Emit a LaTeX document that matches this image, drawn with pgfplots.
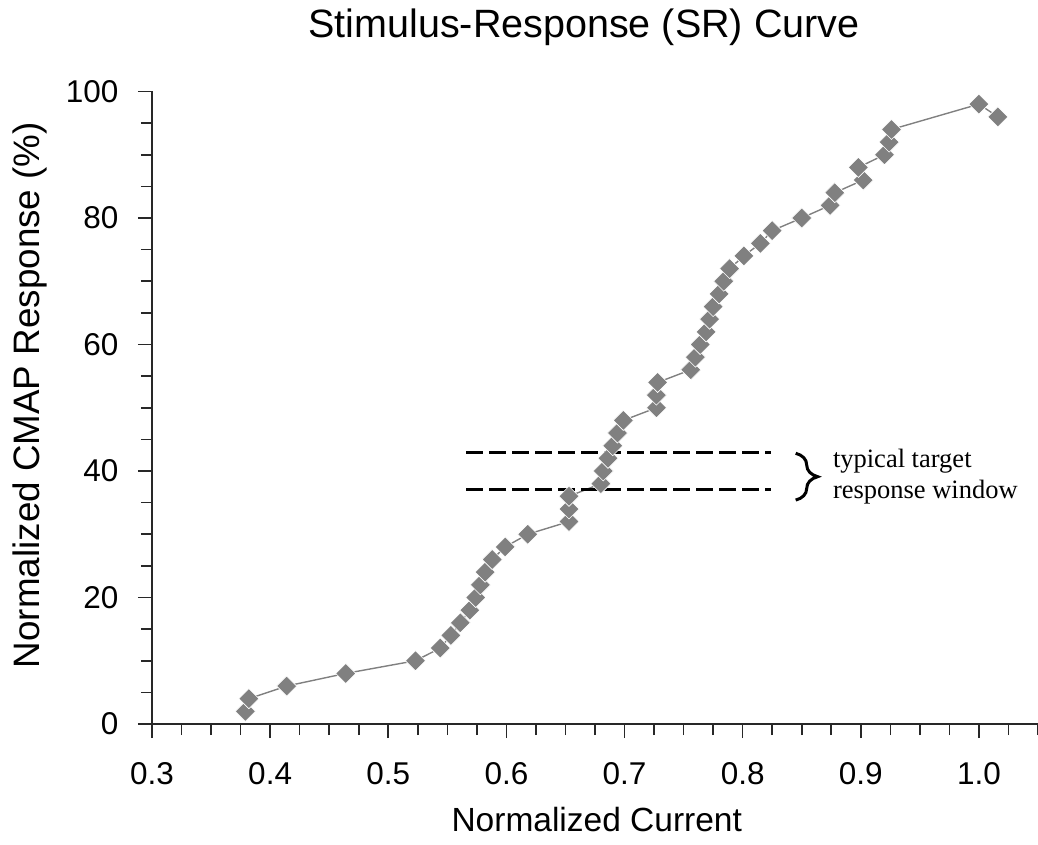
\documentclass[border=0pt]{standalone}
\usepackage{pgfplots}
\pgfplotsset{compat=1.18}
\usetikzlibrary{decorations.pathreplacing}
\usepackage{fontspec}
\setmainfont{Liberation Sans}
\newfontfamily\seriffont{Liberation Serif}
\definecolor{ptgray}{RGB}{128,128,128}
\definecolor{axgray}{RGB}{40,40,40}

\begin{document}
\begin{tikzpicture}
\begin{axis}[
  scale only axis, width=886bp, height=632.5bp,
  xmin=0.3, xmax=1.05, ymin=0, ymax=100,
  axis x line*=bottom, axis y line*=left,
  axis line style={-, line width=1.6bp, color=axgray},
  xtick={0.3,0.4,0.5,0.6,0.7,0.8,0.9,1.0},
  minor xtick={0.325,0.35,0.375,0.425,0.45,0.475,0.525,0.55,0.575,0.625,0.65,0.675,0.725,0.75,0.775,0.825,0.85,0.875,0.925,0.95,0.975,1.025,1.05},
  ytick={0,20,40,60,80,100},
  minor ytick={5,10,15,25,30,35,45,50,55,65,70,75,85,90,95},
  tick align=outside,
  major tick length=14bp, minor tick length=11bp,
  tick style={line width=1.6bp, color=axgray},
  /pgf/number format/assume math mode=true,
  xticklabel style={font=\fontsize{31.5bp}{36bp}\selectfont, yshift=-21bp, /pgf/number format/.cd, fixed, fixed zerofill, precision=1},
  yticklabel style={font=\fontsize{31.5bp}{36bp}\selectfont, xshift=-16bp},
  title={Stimulus-Response (SR) Curve},
  title style={font=\fontsize{39.5bp}{44bp}\selectfont, at={(axis description cs:0.4876,1.0767)}, anchor=base},
  xlabel={Normalized Current},
  xlabel style={font=\fontsize{33.5bp}{40bp}\selectfont, at={(axis description cs:0.502,-0.1692)}, anchor=base},
  ylabel={Normalized CMAP Response (\%)},
  ylabel style={font=\fontsize{36.8bp}{42bp}\selectfont, at={(axis description cs:-0.127,0.52)}, anchor=base},
  clip=false,
]
\addplot[color=ptgray, line width=1.4bp, mark=square*, mark size=7.1bp,
  mark options={rotate=45, fill=ptgray, draw=white, line width=0.6bp}] coordinates {
  (0.379,2) (0.382,4) (0.414,6) (0.464,8) (0.523,10) (0.544,12) (0.553,14)
  (0.561,16) (0.569,18) (0.574,20) (0.578,22) (0.582,24) (0.588,26) (0.599,28)
  (0.618,30) (0.653,32) (0.653,34) (0.653,36) (0.680,38) (0.682,40) (0.686,42)
  (0.690,44) (0.694,46) (0.699,48) (0.727,50) (0.727,52) (0.728,54) (0.756,56)
  (0.760,58) (0.764,60) (0.769,62) (0.772,64) (0.775,66) (0.780,68) (0.784,70)
  (0.789,72) (0.801,74) (0.815,76) (0.825,78) (0.850,80) (0.874,82) (0.878,84)
  (0.902,86) (0.898,88) (0.920,90) (0.924,92) (0.926,94) (1.000,98) (1.016,96)
};
\addplot[black, line width=3bp, dash pattern=on 17bp off 6bp, forget plot] coordinates {(0.566,43) (0.824,43)};
\addplot[black, line width=3bp, dash pattern=on 17bp off 6bp, forget plot] coordinates {(0.566,37) (0.824,37)};
\draw[black, line width=3bp, decorate, decoration={brace, amplitude=22bp}] (axis cs:0.8449,42.8) -- (axis cs:0.8449,35.4);
\node[font=\seriffont\fontsize{26.5bp}{30bp}\selectfont, anchor=base west, inner sep=0pt] at (axis cs:0.8763,40.63) {typical target};
\node[font=\seriffont\fontsize{26.5bp}{30bp}\selectfont, anchor=base west, inner sep=0pt] at (axis cs:0.8763,35.73) {response window};
\end{axis}
\pgfresetboundingbox
\path (-152bp,-121bp) rectangle (886bp,724bp);
\end{tikzpicture}
\end{document}
